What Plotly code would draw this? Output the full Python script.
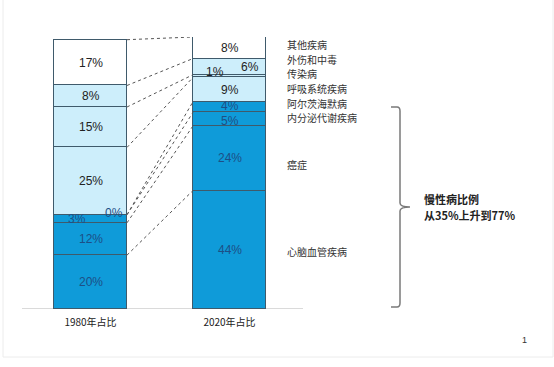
import plotly.graph_objects as go

# ---------------- data ----------------
years = ["1980年占比", "2020年占比"]
categories = ["心脑血管疾病", "癌症", "内分泌代谢疾病", "阿尔茨海默病",
              "呼吸系统疾病", "传染病", "外伤和中毒", "其他疾病"]
share_1980 = [20, 12, 3, 0, 25, 15, 8, 17]
share_2020 = [44, 24, 5, 4, 9, 1, 6, 8]
chronic = [True, True, True, True, False, False, False, False]
other_flag = [False, False, False, False, False, False, False, True]
bracket_title = "慢性病比例"
bracket_note = "从35%上升到77%"
page_no = "1"

# ---------------- style ----------------
W, H = 554, 367
ML, MR, MT, MB = 0, 0, 37, 58
BLUE = "#0f9bd9"
LIGHT = "#cdeefb"
WHITE = "#ffffff"
EDGE = "#3f5a6b"
BAR_W = 0.525
PX_PER_UNIT_X = 139.0
X0_PX = 90.5
YMAX = 101

def px2x(px):
    return px / W

def px2y(py):
    return (H - MB - py) / (H - MT - MB)

def color_for(i):
    if chronic[i]:
        return BLUE
    if other_flag[i]:
        return WHITE
    return LIGHT

fig = go.Figure()
for i, cat in enumerate(categories):
    fig.add_trace(go.Bar(
        x=[0, 1], y=[share_1980[i], share_2020[i]], name=cat,
        width=BAR_W, marker=dict(color=color_for(i), line=dict(color=EDGE, width=1)),
        hoverinfo="skip", showlegend=False))

annotations = []
shapes = []

# percentage labels (x shift, y shift in px for the crowded ones)
label_shift = {(0, 2): (-14, 0), (0, 3): (23, 2), (1, 2): (0, -1.5), (1, 3): (0, 1.5),
               (1, 5): (-15, 4), (1, 6): (20, 0)}
for xi, vals in enumerate([share_1980, share_2020]):
    cum = 0
    for i, v in enumerate(vals):
        mid = cum + v / 2
        cum += v
        dx, dy = label_shift.get((xi, i), (0, 0))
        annotations.append(dict(
            x=xi, y=mid, xref="x", yref="y", text=f"{v}%", showarrow=False,
            xshift=dx, yshift=dy,
            font=dict(family="Liberation Sans, Arial", size=12,
                      color="#1d4f86" if chronic[i] else "#222222")))

# dashed connector lines between cumulative tops
c80 = 0
c20 = 0
for i in range(len(categories)):
    c80 += share_1980[i]
    c20 += share_2020[i]
    shapes.append(dict(type="line", xref="x", yref="y",
                       x0=0 + BAR_W / 2, y0=c80, x1=1 - BAR_W / 2, y1=c20,
                       line=dict(color="#555555", width=1, dash="dot")))

# category labels right of the 2020 bar
cat_label_py = [251, 164, 117.5, 103, 88, 73.5, 59, 44]
for cat, py in zip(categories, cat_label_py):
    annotations.append(dict(
        x=px2x(285), y=px2y(py), xref="paper", yref="paper", text=cat,
        showarrow=False, xanchor="left", yanchor="middle",
        font=dict(family="Noto Sans CJK SC", size=10, color="#333333")))

# bracket
bx = 400
path = (f"M {px2x(391)},{px2y(107)} L {px2x(397)},{px2y(107)} "
        f"Q {px2x(bx)},{px2y(107)} {px2x(bx)},{px2y(111)} "
        f"L {px2x(bx)},{px2y(203)} Q {px2x(bx)},{px2y(207)} {px2x(410)},{px2y(207)} "
        f"Q {px2x(bx)},{px2y(207)} {px2x(bx)},{px2y(211)} "
        f"L {px2x(bx)},{px2y(303)} Q {px2x(bx)},{px2y(307)} {px2x(397)},{px2y(307)} "
        f"L {px2x(391)},{px2y(307)}")
shapes.append(dict(type="path", xref="paper", yref="paper", path=path,
                   line=dict(color="#7a7a7a", width=1.5)))

for txt, py in [(bracket_title, 199), (bracket_note, 215)]:
    annotations.append(dict(x=px2x(422), y=px2y(py), xref="paper", yref="paper",
                            text=f"<b>{txt}</b>", showarrow=False,
                            xanchor="left", yanchor="middle",
                            font=dict(family="Noto Sans CJK SC", size=11, color="#222222")))

# page number
annotations.append(dict(x=px2x(529), y=px2y(347), xref="paper", yref="paper",
                        text=page_no, showarrow=False,
                        font=dict(family="Liberation Sans, Arial", size=9, color="#333333")))

# baseline
shapes.append(dict(type="line", xref="paper", yref="y",
                   x0=px2x(22), x1=px2x(303), y0=0, y1=0,
                   line=dict(color="#b5b5b5", width=1), layer="below"))

# faint slide frame
for (x0, y0, x1, y1) in [(3, 0, 3, 357), (553, 0, 553, 357), (3, 357, 553, 357)]:
    shapes.append(dict(type="line", xref="paper", yref="paper",
                       x0=px2x(x0), y0=px2y(y0), x1=px2x(x1), y1=px2y(y1),
                       line=dict(color="#ececec", width=1)))

fig.update_layout(
    width=W, height=H, barmode="stack", bargap=0,
    margin=dict(l=ML, r=MR, t=MT, b=MB, pad=0),
    paper_bgcolor="white", plot_bgcolor="white",
    xaxis=dict(range=[-X0_PX / PX_PER_UNIT_X, (W - X0_PX) / PX_PER_UNIT_X],
               tickvals=[0, 1], ticktext=years, showgrid=False, zeroline=False,
               showline=False, ticks="", ticklabelstandoff=6,
               tickfont=dict(family="Noto Sans CJK SC, Liberation Sans", size=10, color="#222222"),
               fixedrange=True),
    yaxis=dict(range=[0, YMAX], visible=False, fixedrange=True),
    annotations=annotations, shapes=shapes,
)

fig.write_html("out.html", config={"displayModeBar": False},
               post_script="document.body.style.margin='0';document.body.style.overflow='hidden';")
